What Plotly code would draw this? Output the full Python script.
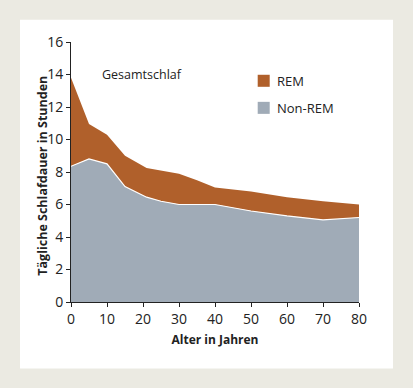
import plotly.graph_objects as go

age = [0, 5, 10, 15, 21, 25, 30, 35, 40, 50, 60, 70, 80]
non_rem = [8.35, 8.8, 8.5, 7.1, 6.45, 6.2, 6.0, 6.0, 6.0, 5.6, 5.3, 5.05, 5.2]
total = [13.8, 10.95, 10.3, 9.0, 8.25, 8.1, 7.9, 7.5, 7.05, 6.8, 6.45, 6.2, 6.0]
rem = [round(t - n, 2) for t, n in zip(total, non_rem)]

x_ticks = [0, 10, 20, 30, 40, 50, 60, 70, 80]
y_ticks = [0, 2, 4, 6, 8, 10, 12, 14, 16]

REM_COLOR = "#b0602b"
NONREM_COLOR = "#a0abb7"
FONT = "Open Sans"

fig = go.Figure()
fig.add_trace(go.Scatter(x=age, y=non_rem, stackgroup="s", mode="lines",
                         line=dict(color="white", width=1.2),
                         fillcolor=NONREM_COLOR, name="Non-REM", hoverinfo="skip"))
fig.add_trace(go.Scatter(x=age, y=rem, stackgroup="s", mode="lines",
                         line=dict(color=REM_COLOR, width=0),
                         fillcolor=REM_COLOR, name="REM", hoverinfo="skip"))

# white panel
fig.add_shape(type="rect", xref="paper", yref="paper",
              x0=-0.177, x1=1.118, y0=-0.256, y1=1.086,
              fillcolor="white", line=dict(width=0), layer="below")

# legend (manual)
fig.add_shape(type="rect", xref="paper", yref="paper",
              x0=(258 - 71.3) / 288, x1=(270 - 71.3) / 288,
              y0=(301.7 - 87) / 259.4, y1=(301.7 - 75) / 259.4,
              fillcolor=REM_COLOR, line=dict(width=0))
fig.add_shape(type="rect", xref="paper", yref="paper",
              x0=(258 - 71.3) / 288, x1=(270 - 71.3) / 288,
              y0=(301.7 - 114) / 259.4, y1=(301.7 - 102) / 259.4,
              fillcolor=NONREM_COLOR, line=dict(width=0))
fig.add_annotation(text="REM", xref="paper", yref="paper",
                   x=(275 - 71.3) / 288, y=(301.7 - 81) / 259.4,
                   xanchor="left", yanchor="middle", showarrow=False,
                   font=dict(family=FONT, size=13, color="#222"))
fig.add_annotation(text="Non-REM", xref="paper", yref="paper",
                   x=(275 - 71.3) / 288, y=(301.7 - 108) / 259.4,
                   xanchor="left", yanchor="middle", showarrow=False,
                   font=dict(family=FONT, size=13, color="#222"))
fig.add_annotation(text="Gesamtschlaf", x=8, y=14.0, xanchor="left",
                   yanchor="middle", showarrow=False,
                   font=dict(family=FONT, size=12.5, color="#222"))
# y-axis title
fig.add_annotation(text="<b>Tägliche Schlafdauer in Stunden</b>", xref="paper", yref="paper",
                   x=(42 - 71.3) / 288, y=(301.7 - 176) / 259.4, textangle=-90,
                   xanchor="center", yanchor="middle", showarrow=False,
                   font=dict(family=FONT, size=12.5, color="#222"))

fig.update_layout(
    width=413, height=388,
    margin=dict(l=71, r=54, t=42, b=86, autoexpand=False),
    paper_bgcolor="#ebeae2", plot_bgcolor="white",
    showlegend=False,
    font=dict(family=FONT, size=13, color="#222"),
    xaxis=dict(range=[0, 80], tickvals=x_ticks, showgrid=False, zeroline=False,
               showline=True, linecolor="#222", linewidth=1, ticks="outside",
               ticklen=4, tickcolor="#222", tickfont=dict(size=14), automargin=False,
               title=dict(text="<b>Alter in Jahren</b>", font=dict(size=12), standoff=8)),
    yaxis=dict(range=[0, 16], tickvals=y_ticks, showgrid=False, zeroline=False,
               showline=True, linecolor="#222", linewidth=1, ticks="outside",
               ticklen=4, tickcolor="#222", tickfont=dict(size=14), automargin=False),
)

fig.write_html("out.html", config={"displayModeBar": False},
               post_script="document.body.style.margin='0';document.body.style.background='#ebeae2';")
